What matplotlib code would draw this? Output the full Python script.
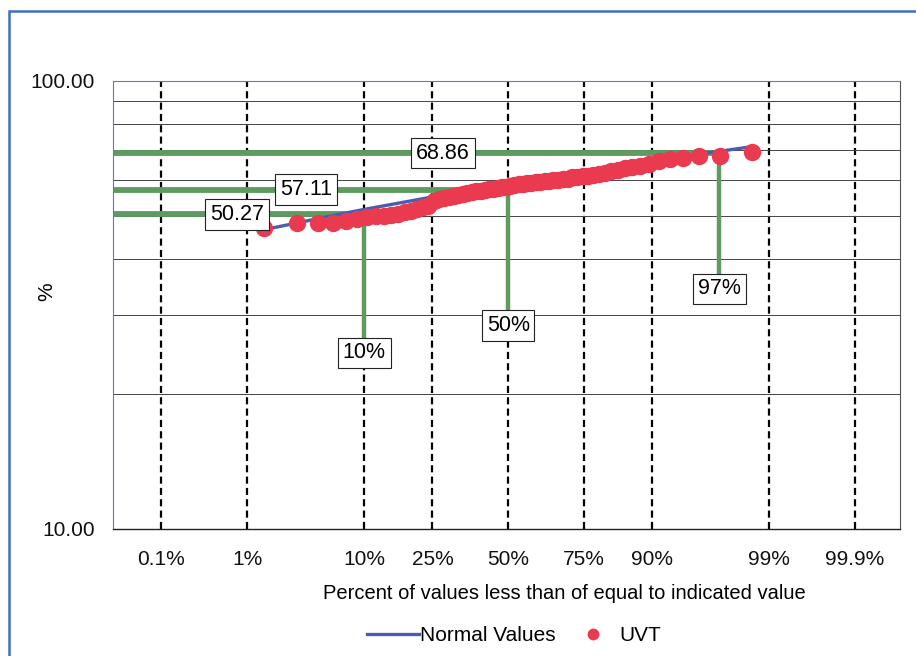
from statistics import NormalDist
import numpy as np
import matplotlib
matplotlib.use("Agg")
import matplotlib.pyplot as plt
from matplotlib.patches import Rectangle
from matplotlib.ticker import FixedLocator, LogLocator, NullFormatter, FormatStrFormatter

plt.rcParams['font.family'] = ['Liberation Sans', 'DejaVu Sans']

# UVT readings, sorted (66 samples), plotted at i/(n+1)
uvt = [47.0, 48.0, 48.1, 48.2, 48.5, 49.0, 49.5, 49.9, 50.0, 50.2,
       50.5, 50.8, 51.2, 51.6, 52.1, 52.6, 54.0, 54.4, 54.8, 55.1,
       55.4, 55.6, 55.9, 56.2, 56.5, 56.7, 56.8, 57.0, 57.2, 57.4,
       57.7, 57.9, 58.0, 58.2, 58.5, 58.7, 58.9, 59.1, 59.2, 59.4,
       59.5, 59.7, 59.8, 60.0, 60.1, 60.3, 60.4, 60.8, 60.9, 61.1,
       61.4, 61.7, 62.0, 62.3, 62.8, 63.3, 63.7, 64.2, 64.6, 65.1,
       66.1, 66.7, 67.3, 67.8, 68.0, 69.1]
uvt_pct = [100.0 * (i + 1) / (len(uvt) + 1) for i in range(len(uvt))]

# fitted normal line
normal_pct = [1.49, 5, 10, 25, 50, 75, 90, 95, 98.51]
normal_val = [46.5, 49.5, 51.6, 55.0, 58.85, 62.7, 66.1, 68.2, 71.2]

# marked percentiles
mark_pct = [10, 50, 97]
mark_val = [50.27, 57.11, 68.86]
mark_val_txt = ['50.27', '57.11', '68.86']
mark_pct_txt = ['10%', '50%', '97%']

xticks = [0.1, 1, 10, 25, 50, 75, 90, 99, 99.9]
xtick_labels = ['0.1%', '1%', '10%', '25%', '50%', '75%', '90%', '99%', '99.9%']

nd = NormalDist()
_ppf = np.vectorize(lambda p: nd.inv_cdf(min(max(p / 100.0, 1e-12), 1 - 1e-12)), otypes=[float])
_cdf = np.vectorize(lambda z: 100.0 * nd.cdf(z), otypes=[float])

def fwd(p):
    return _ppf(np.asarray(p, dtype=float))

def inv(z):
    return _cdf(np.asarray(z, dtype=float))

fig = plt.figure(figsize=(9.16, 6.56), dpi=100)
ax = fig.add_axes([113 / 916, 1 - 529 / 656, 787 / 916, 448.5 / 656])
ax.set_xscale('function', functions=(fwd, inv))
ax.set_yscale('log')
x_left = 100 * nd.cdf(-3.52)
x_right = 100 * nd.cdf(3.49)
ax.set_xlim(x_left, x_right)
ax.set_ylim(10, 100)

# grid
ax.xaxis.set_major_locator(FixedLocator(xticks))
ax.set_xticklabels(xtick_labels)
ax.xaxis.set_minor_locator(FixedLocator([]))
ax.yaxis.set_major_locator(FixedLocator([10, 100]))
ax.yaxis.set_major_formatter(FormatStrFormatter('%.2f'))
ax.yaxis.set_minor_locator(LogLocator(subs=np.arange(2, 10)))
ax.yaxis.set_minor_formatter(NullFormatter())
ax.grid(axis='x', which='major', color='black', lw=1.6, dashes=(3.2, 1.9), zorder=1)
ax.grid(axis='y', which='minor', color='#444444', lw=0.7, zorder=1)
ax.set_axisbelow(True)
ax.tick_params(axis='both', which='both', length=0, labelsize=15, colors='#111111')
ax.tick_params(axis='x', pad=15)
ax.tick_params(axis='y', pad=13)

for s in ['left', 'top']:
    ax.spines[s].set_color('#5a7cc0')
    ax.spines[s].set_linewidth(0.8)
ax.spines['right'].set_color('#555555')
ax.spines['bottom'].set_color('#222222')
ax.spines['bottom'].set_linewidth(1.0)

green = '#5e9b60'
label_x = [0.79, 3.6, 28.1]
label_y = [24.7, 28.4, 34.3]
for p, v, lx, ly, vt, pt in zip(mark_pct, mark_val, label_x, label_y, mark_val_txt, mark_pct_txt):
    ax.plot([x_left, p], [v, v], color=green, lw=4.2, solid_capstyle='butt', zorder=2)
    ax.plot([p, p], [v, ly], color=green, lw=3.2, solid_capstyle='butt', zorder=2)
    box = dict(boxstyle='square,pad=0.22', fc='white', ec='#222222', lw=0.8)
    ax.text(lx, v, vt, ha='center', va='center', fontsize=15.5, bbox=box, zorder=6)
    ax.text(p, ly, pt, ha='center', va='center', fontsize=15.5, bbox=box, zorder=6)

ax.plot(normal_pct, normal_val, color='#4a5cb0', lw=2.4, zorder=3, label='Normal Values')
ax.plot(uvt_pct, uvt, ls='', marker='o', ms=11.5, color='#e93a50', mec='#e93a50', zorder=4, label='UVT')

ax.set_xlabel('Percent of values less than of equal to indicated value', fontsize=14.5)
ax.xaxis.set_label_coords(0.574, -0.122)
ax.set_ylabel('%', fontsize=15)
ax.yaxis.set_label_coords(-0.072, 0.53)

leg = ax.legend(loc='center', bbox_to_anchor=(0.51, -0.2385), ncol=2, frameon=False,
                fontsize=15, handlelength=2.5, handletextpad=0.05, columnspacing=0.5,
                markerscale=0.65)

fig.patches.append(Rectangle((9 / 916, -0.1), 1.2, 1.1 - 11 / 656, transform=fig.transFigure,
                             fill=False, ec='#3d6fc0', lw=1.8))

fig.savefig('out.png', dpi=100)
